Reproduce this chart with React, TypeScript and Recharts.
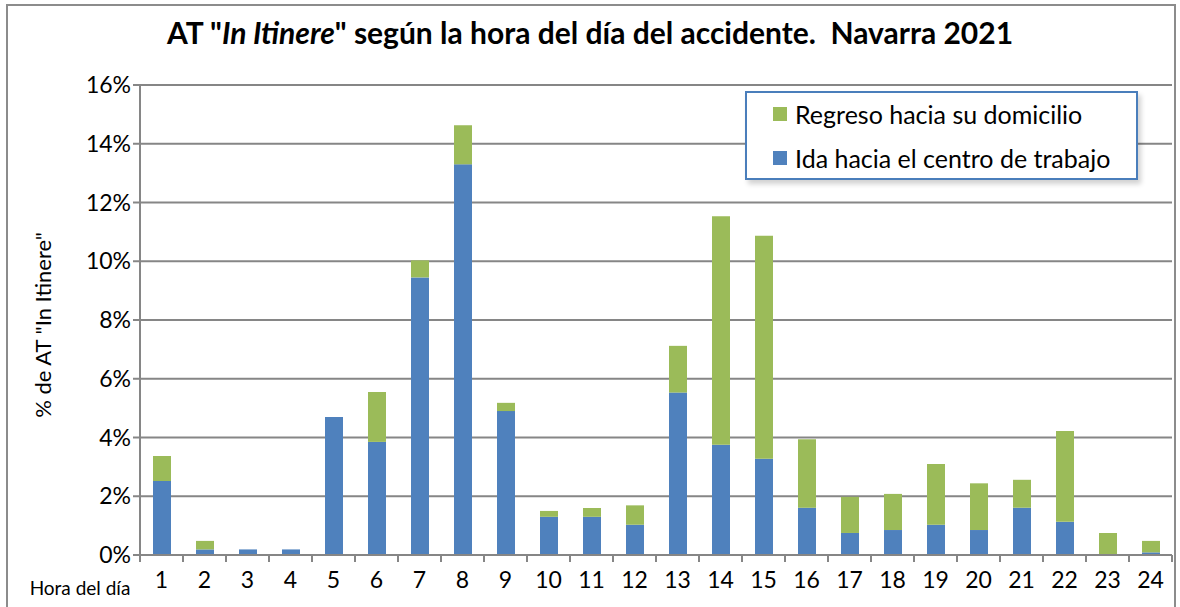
import React from 'react';
import { BarChart, Bar, XAxis, YAxis, CartesianGrid } from 'recharts';

const horas = ['1', '2', '3', '4', '5', '6', '7', '8', '9', '10', '11', '12', '13', '14', '15', '16', '17', '18', '19', '20', '21', '22', '23', '24'];

// % de AT "In Itinere", ida hacia el centro de trabajo (azul)
const ida = [2.52, 0.19, 0.19, 0.19, 4.7, 3.85, 9.45, 13.3, 4.9, 1.3, 1.3, 1.03, 5.53, 3.75, 3.28, 1.61, 0.75, 0.85, 1.03, 0.85, 1.61, 1.13, 0, 0.09];

// regreso hacia su domicilio (verde), apilado encima
const regreso = [0.85, 0.29, 0, 0, 0, 1.7, 0.58, 1.33, 0.28, 0.2, 0.3, 0.66, 1.59, 7.78, 7.59, 2.33, 1.23, 1.23, 2.07, 1.59, 0.95, 3.09, 0.75, 0.39];

const yTicks = [0, 2, 4, 6, 8, 10, 12, 14, 16];

const BLUE = '#4f81bd';
const GREEN = '#9bbb59';
const GRID = '#868686';
const FONT = 'Lato, "Open Sans", sans-serif';

const data = horas.map((h, i) => ({ hora: h, ida: ida[i], regreso: regreso[i] }));

const CAT_W = (1172 - 140) / horas.length;

const HoraTick = (props: any) => {
    const { x, y, payload, index } = props;
    return (
        <g>
            <line x1={x - CAT_W / 2} y1={y - 8} x2={x - CAT_W / 2} y2={y - 1} stroke={GRID} strokeWidth={2} />
            {index === horas.length - 1 && (
                <line x1={x + CAT_W / 2} y1={y - 8} x2={x + CAT_W / 2} y2={y - 1} stroke={GRID} strokeWidth={2} />
            )}
            <text x={x} y={y + 25} textAnchor="middle" fontSize={23} fill="#000" fontFamily={FONT}>
                {payload.value}
            </text>
        </g>
    );
};

const LegendBox = () => (
    <div
        style={{
            position: 'absolute',
            left: 745,
            top: 91,
            width: 393,
            height: 89,
            border: '2px solid #4a7ebb',
            background: '#fff',
            boxShadow: '3px 4px 5px rgba(0,0,0,0.18)',
            fontFamily: FONT,
            fontSize: 25,
            color: '#000',
            boxSizing: 'border-box',
            paddingLeft: 26,
        }}
    >
        {[
            { label: 'Regreso hacia su domicilio', color: GREEN },
            { label: 'Ida hacia el centro de trabajo', color: BLUE },
        ].map((it, i) => (
            <div key={i} style={{ display: 'flex', alignItems: 'center', height: 42, marginTop: i === 0 ? 0 : 2 }}>
                <span style={{ width: 14, height: 14, background: it.color, display: 'inline-block', marginRight: 8 }} />
                <span>{it.label}</span>
            </div>
        ))}
    </div>
);

const App: React.FC = () => {
    return (
        <div style={{ position: 'absolute', left: 0, top: 0, width: 1180, height: 607, background: '#fff', overflow: 'hidden' }}>
            <div
                style={{
                    position: 'absolute',
                    left: 6,
                    top: 4,
                    width: 1170,
                    height: 620,
                    border: '2px solid #8c8c8c',
                    boxSizing: 'border-box',
                }}
            />
            <div
                style={{
                    position: 'absolute',
                    left: 0,
                    top: 14,
                    width: 1180,
                    textAlign: 'center',
                    fontFamily: FONT,
                    fontWeight: 700,
                    fontSize: 30,
                    color: '#000',
                }}
            >
                AT "<i>In Itinere</i>" según la hora del día del accidente.&nbsp; Navarra 2021
            </div>
            <div style={{ position: 'absolute', left: 0, top: 0 }}>
                <BarChart
                    width={1180}
                    height={607}
                    data={data}
                    margin={{ top: 85, right: 8, bottom: 0, left: 0 }}
                    barSize={18}
                >
                    <CartesianGrid vertical={false} stroke={GRID} strokeWidth={2} />
                    <XAxis
                        dataKey="hora"
                        height={52}
                        axisLine={{ stroke: GRID, strokeWidth: 2 }}
                        tickLine={false}
                        interval={0}
                        tick={<HoraTick />}
                        label={() => (
                            <text x={80} y={595} textAnchor="middle" fontSize={19} fill="#000" fontFamily={FONT}>
                                Hora del día
                            </text>
                        )}
                    />
                    <YAxis
                        width={140}
                        domain={[0, 16]}
                        ticks={yTicks}
                        interval={0}
                        tickFormatter={(v: number) => `${v}%`}
                        axisLine={{ stroke: GRID, strokeWidth: 2 }}
                        tickLine={{ stroke: GRID, strokeWidth: 2 }}
                        tickSize={7}
                        tick={{ fontSize: 23, fill: '#000', fontFamily: FONT }}
                        label={() => (
                            <text
                                x={45}
                                y={325}
                                transform="rotate(-90 45 325)"
                                textAnchor="middle"
                                dominantBaseline="middle"
                                fontSize={22}
                                fill="#000"
                                fontFamily={FONT}
                            >
                                % de AT "In Itinere"
                            </text>
                        )}
                    />
                    <Bar dataKey="ida" name="Ida hacia el centro de trabajo" stackId="a" fill={BLUE} isAnimationActive={false} />
                    <Bar dataKey="regreso" name="Regreso hacia su domicilio" stackId="a" fill={GREEN} isAnimationActive={false} />
                </BarChart>
            </div>
            <LegendBox />
        </div>
    );
};

export default App;
